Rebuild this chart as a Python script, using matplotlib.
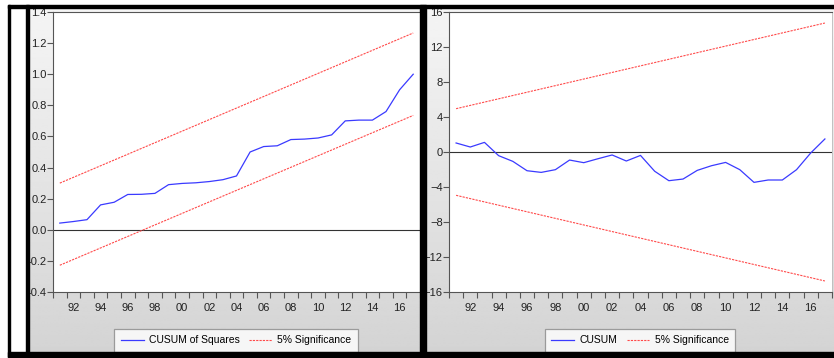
import matplotlib.pyplot as plt
import numpy as np
from matplotlib.patches import Rectangle
from matplotlib.ticker import FixedLocator, NullFormatter

plt.rcParams['font.family'] = ['Liberation Sans', 'DejaVu Sans']

years = list(range(1991, 2018))

# CUSUM of squares (left panel)
cusumsq = [0.043, 0.053, 0.065, 0.160, 0.177, 0.227, 0.228, 0.234, 0.290, 0.298,
           0.302, 0.310, 0.322, 0.346, 0.500, 0.535, 0.540, 0.580, 0.583, 0.590,
           0.610, 0.700, 0.705, 0.705, 0.760, 0.900, 1.000]
sq_band_years = [1991, 2017]
sq_upper = [0.300, 1.265]
sq_lower = [-0.228, 0.735]

# CUSUM (right panel)
cusum = [1.03, 0.57, 1.10, -0.42, -1.07, -2.14, -2.33, -2.02, -0.92, -1.22,
         -0.77, -0.34, -1.03, -0.39, -2.20, -3.28, -3.09, -2.10, -1.57, -1.19,
         -2.02, -3.47, -3.20, -3.20, -2.02, -0.11, 1.49]
cu_band_years = [1991, 2017]
cu_upper = [4.95, 14.74]
cu_lower = [-4.95, -14.74]

year_labels = list(range(1992, 2017, 2))

W, H = 834, 358
fig = plt.figure(figsize=(W / 100, H / 100), dpi=100)
fig.patch.set_facecolor('white')


def box(x, y, w, h):
    # pixel box (from top-left) -> figure fraction
    return [x / W, 1 - (y + h) / H, w / W, h / H]


# gray gradient panels
grad = np.linspace(0.96, 0.83, 256).reshape(-1, 1)
for x0, x1 in [(29, 420), (426, 834)]:
    bg = fig.add_axes(box(x0, 8, x1 - x0, 344))
    bg.imshow(grad, cmap='gray', vmin=0, vmax=1, aspect='auto')
    bg.set_axis_off()

# black frame pieces
for (x, y, w, h) in [(8, 5, 826, 3), (8, 5, 2, 352), (8, 352, 826, 5),
                     (26, 5, 3, 352), (420, 5, 6, 352)]:
    fig.add_artist(Rectangle((x / W, 1 - (y + h) / H), w / W, h / H,
                             transform=fig.transFigure, color='black', zorder=10))

blue = '#3a3aff'
red = '#ff4a4a'


def style(ax):
    ax.set_facecolor('white')
    ax.set_xlim(1990.5, 2017.5)
    ax.xaxis.set_major_locator(FixedLocator(year_labels))
    ax.set_xticklabels([f'{y % 100:02d}' for y in year_labels])
    ax.xaxis.set_minor_locator(FixedLocator(np.arange(1990.5, 2018, 1.0)))
    ax.xaxis.set_minor_formatter(NullFormatter())
    ax.tick_params(axis='x', which='major', length=0, pad=8, labelsize=8,
                   colors='#222222')
    ax.tick_params(axis='x', which='minor', length=4, direction='out',
                   color='#555555', width=0.8)
    ax.tick_params(axis='y', length=4, direction='out', labelsize=8,
                   color='#555555', width=0.8, pad=0.5, labelcolor='#222222')
    for s in ['left', 'bottom', 'top']:
        ax.spines[s].set_color('#555555')
        ax.spines[s].set_linewidth(0.8)
    ax.spines['right'].set_color('#bbbbbb')
    ax.spines['right'].set_linewidth(0.6)


def add_legend(ax, cx):
    leg = ax.legend(loc='upper center', bbox_to_anchor=(cx / W, 1 - 329 / H),
                    bbox_transform=fig.transFigure, ncol=2, fontsize=7.5,
                    frameon=True, fancybox=False, edgecolor='#888888',
                    handlelength=2.2, handletextpad=0.5, columnspacing=0.9,
                    borderpad=0.6, borderaxespad=0)
    leg.get_frame().set_linewidth(0.9)
    return leg


# left panel
ax1 = fig.add_axes(box(53, 12, 367, 280))
style(ax1)
ax1.set_ylim(-0.4, 1.4)
ax1.set_yticks(np.arange(-0.4, 1.41, 0.2))
ax1.set_yticklabels([f'{v:.1f}' for v in np.arange(-0.4, 1.41, 0.2)])
ax1.axhline(0, color='#333333', lw=0.8)
ax1.plot(years, cusumsq, color=blue, lw=0.9, label='CUSUM of Squares')
ax1.plot(sq_band_years, sq_upper, color=red, lw=0.8, dashes=(2, 1),
         label='5% Significance')
ax1.plot(sq_band_years, sq_lower, color=red, lw=0.8, dashes=(2, 1))
add_legend(ax1, 236)

# right panel
ax2 = fig.add_axes(box(449, 12, 383, 280))
style(ax2)
ax2.set_ylim(-16, 16)
ax2.set_yticks(range(-16, 17, 4))
ax2.axhline(0, color='#333333', lw=0.8)
ax2.plot(years, cusum, color=blue, lw=0.9, label='CUSUM')
ax2.plot(cu_band_years, cu_upper, color=red, lw=0.8, dashes=(2, 1),
         label='5% Significance')
ax2.plot(cu_band_years, cu_lower, color=red, lw=0.8, dashes=(2, 1))
add_legend(ax2, 640)

fig.savefig('out.png', dpi=100)
